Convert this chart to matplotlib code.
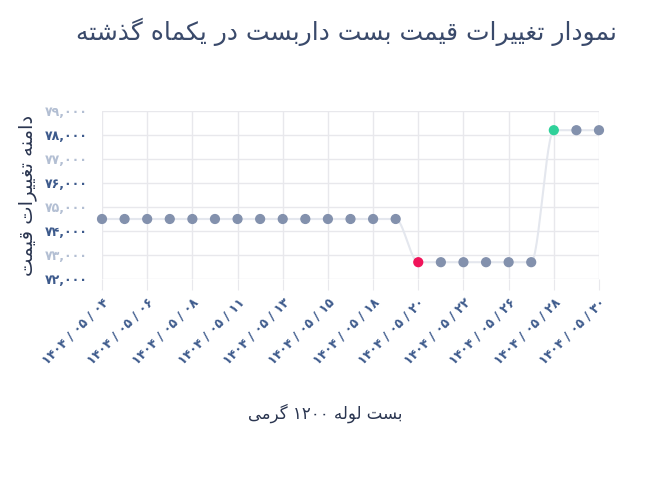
import matplotlib
import numpy as np

matplotlib.use("Agg")

from matplotlib import pyplot as plt  # noqa: E402

# data
day_labels = ["۰۴", "۰۵", "۰۶", "۰۷", "۰۸", "۱۰", "۱۱", "۱۲", "۱۳", "۱۴", "۱۵", "۱۶",
              "۱۸", "۱۹", "۲۰", "۲۱", "۲۲", "۲۳", "۲۶", "۲۷", "۲۸", "۲۹", "۳۰"]
dates = [f"۱۴۰۴ / ۰۵ / {d}" for d in day_labels]
prices = [74500] * 14 + [72700] * 6 + [78200] * 3
y_ticks = [72000, 73000, 74000, 75000, 76000, 77000, 78000, 79000]

title = "نمودار تغییرات قیمت بست داربست در یکماه گذشته"
x_title = "بست لوله ۱۲۰۰ گرمی"
y_title = "دامنه تغییرات قیمت"

# isolated, final, initial, medial
FORMS = {
    "ا": (0xFE8D, 0xFE8E, None, None), "ب": (0xFE8F, 0xFE90, 0xFE91, 0xFE92),
    "ت": (0xFE95, 0xFE96, 0xFE97, 0xFE98), "د": (0xFEA9, 0xFEAA, None, None),
    "ذ": (0xFEAB, 0xFEAC, None, None), "ر": (0xFEAD, 0xFEAE, None, None),
    "س": (0xFEB1, 0xFEB2, 0xFEB3, 0xFEB4), "ش": (0xFEB5, 0xFEB6, 0xFEB7, 0xFEB8),
    "غ": (0xFECD, 0xFECE, 0xFECF, 0xFED0), "ق": (0xFED5, 0xFED6, 0xFED7, 0xFED8),
    "ل": (0xFEDD, 0xFEDE, 0xFEDF, 0xFEE0), "م": (0xFEE1, 0xFEE2, 0xFEE3, 0xFEE4),
    "ن": (0xFEE5, 0xFEE6, 0xFEE7, 0xFEE8), "ه": (0xFEE9, 0xFEEA, 0xFEEB, 0xFEEC),
    "و": (0xFEED, 0xFEEE, None, None), "ی": (0xFBFC, 0xFBFD, 0xFBFE, 0xFBFF),
    "ک": (0xFB8E, 0xFB8F, 0xFB90, 0xFB91), "گ": (0xFB92, 0xFB93, 0xFB94, 0xFB95),
}


def shape_rtl(text):
    out = []
    for i, ch in enumerate(text):
        if ch not in FORMS:
            out.append(ch)
            continue
        prev = text[i - 1] if i > 0 else ""
        nxt = text[i + 1] if i + 1 < len(text) else ""
        join_prev = prev in FORMS and FORMS[prev][2] is not None
        join_next = nxt in FORMS and FORMS[ch][2] is not None
        iso, fin, ini, med = FORMS[ch]
        if join_prev and join_next:
            code = med
        elif join_prev:
            code = fin
        elif join_next:
            code = ini
        else:
            code = iso
        out.append(chr(code))
    visual = "".join(out)[::-1]
    # keep digit runs left-to-right
    result, run = [], []
    for ch in visual:
        if "۰" <= ch <= "۹":
            run.append(ch)
        else:
            result.extend(run[::-1])
            run = []
            result.append(ch)
    result.extend(run[::-1])
    return "".join(result)


def fa_digits(s):
    return s.translate(str.maketrans("0123456789", "۰۱۲۳۴۵۶۷۸۹"))


def pchip(x, y, num=30):
    x = np.asarray(x, float)
    y = np.asarray(y, float)
    h = np.diff(x)
    d = np.diff(y) / h
    m = np.zeros_like(y)
    for k in range(1, len(y) - 1):
        if d[k - 1] * d[k] > 0:
            m[k] = 2 / (1 / d[k - 1] + 1 / d[k])
    xs, ys = [], []
    for k in range(len(h)):
        t = np.linspace(0, 1, num)
        h00 = 2 * t**3 - 3 * t**2 + 1
        h10 = t**3 - 2 * t**2 + t
        h01 = -2 * t**3 + 3 * t**2
        h11 = t**3 - t**2
        xs.append(x[k] + t * h[k])
        ys.append(h00 * y[k] + h10 * h[k] * m[k] + h01 * y[k + 1] + h11 * h[k] * m[k + 1])
    return np.concatenate(xs), np.concatenate(ys)


plt.rcParams["font.family"] = ["DejaVu Sans"]
dark = "#3d5a8c"
light = "#b3bfd3"

fig = plt.figure(figsize=(6.68, 4.78), dpi=100)
ax = fig.add_axes([102 / 668, 1 - 279 / 478, (599 - 102) / 668, (279 - 111) / 478])

x = np.arange(len(prices))
sx, sy = pchip(x, prices)
ax.plot(sx, sy, color="#e4e7ee", lw=1.5, zorder=2, clip_on=False)

colors = ["#8391ad"] * len(prices)
colors[int(np.argmin(prices))] = "#f0145a"
colors[int(np.argmax(prices))] = "#2fd19a"
ax.scatter(x, prices, s=40, c=colors, zorder=3, clip_on=False)

ax.set_xlim(0, len(prices) - 1)
ax.set_ylim(72000, 79000)
ax.set_xticks(x[::2])
ax.set_xticklabels([dates[i] for i in x[::2]],
                   rotation=45, ha="right", rotation_mode="anchor",
                   fontsize=9, fontweight="bold", color=dark)
ax.set_yticks(y_ticks)
ax.set_yticklabels([fa_digits(f"{v:,}") for v in y_ticks], fontsize=9, fontweight="bold")
for i, lab in enumerate(ax.get_yticklabels()):
    lab.set_color(dark if i % 2 == 0 else light)

ax.grid(True, color="#e8e8ec", lw=1)
ax.set_axisbelow(True)
for sp in ax.spines.values():
    sp.set_visible(False)
ax.tick_params(axis="y", length=0, pad=10)
ax.tick_params(axis="x", length=8, color="#e8e8ec", pad=4)

fig.text(0.518, 1 - 32 / 478, shape_rtl(title), ha="center", va="center",
         fontsize=18, color="#3a4a6b")
fig.text(0.487, 1 - 413 / 478, shape_rtl(x_title), ha="center", va="center",
         fontsize=12, color="#2a3550")
fig.text(28 / 668, 1 - 195 / 478, shape_rtl(y_title), ha="center", va="center",
         rotation=90, fontsize=14, color="#2a3550")

fig.savefig("out.png", dpi=100)
